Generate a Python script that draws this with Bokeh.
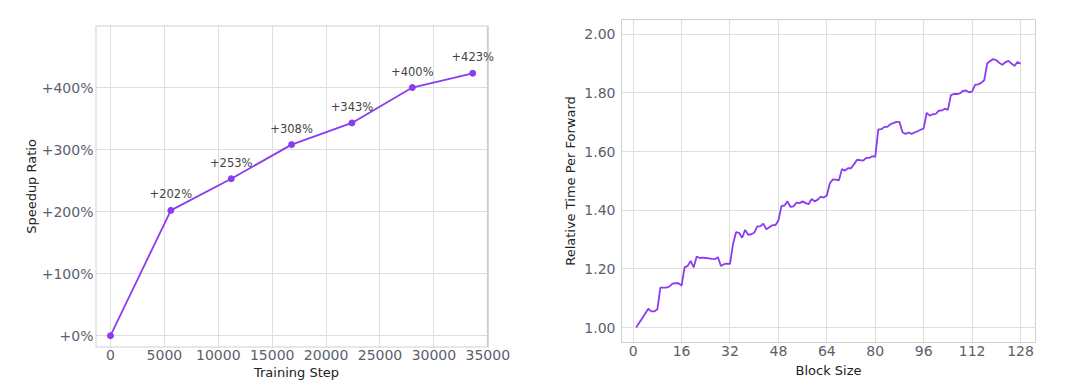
from bokeh.plotting import figure
from bokeh.layouts import row, column
from bokeh.models import (FixedTicker, NumeralTickFormatter, ColumnDataSource, Range1d,
                          LabelSet, BoxAnnotation)
from bokeh.core.properties import value
from bokeh.embed import file_html
from bokeh.resources import INLINE

# ---------------- data ----------------
training_steps = [0, 5600, 11200, 16800, 22400, 28000, 33600]
speedup_pct = [0, 202, 253, 308, 343, 400, 423]
speedup_yticks = [0, 100, 200, 300, 400]
speedup_ytick_labels = ["+0%", "+100%", "+200%", "+300%", "+400%"]
step_xticks = [0, 5000, 10000, 15000, 20000, 25000, 30000, 35000]
step_x_min, step_x_max = -1390, 35000
speedup_y_min, speedup_y_max = -19, 500

block_sizes = list(range(1, 129))
rel_time = [
    1.000, 1.016, 1.032, 1.048, 1.064, 1.055, 1.055, 1.062,
    1.136, 1.136, 1.136, 1.140, 1.150, 1.151, 1.151, 1.143,
    1.205, 1.210, 1.227, 1.205, 1.242, 1.237, 1.238, 1.237,
    1.236, 1.234, 1.233, 1.240, 1.210, 1.216, 1.218, 1.217,
    1.285, 1.325, 1.323, 1.306, 1.333, 1.316, 1.318, 1.323,
    1.345, 1.345, 1.354, 1.335, 1.342, 1.349, 1.349, 1.365,
    1.414, 1.416, 1.430, 1.411, 1.413, 1.426, 1.424, 1.430,
    1.424, 1.421, 1.438, 1.430, 1.436, 1.446, 1.443, 1.450,
    1.492, 1.505, 1.504, 1.502, 1.540, 1.535, 1.543, 1.543,
    1.557, 1.572, 1.571, 1.569, 1.578, 1.578, 1.584, 1.582,
    1.675, 1.676, 1.684, 1.684, 1.693, 1.697, 1.701, 1.701,
    1.666, 1.660, 1.665, 1.660, 1.665, 1.669, 1.674, 1.679,
    1.732, 1.722, 1.727, 1.728, 1.739, 1.740, 1.746, 1.742,
    1.792, 1.796, 1.796, 1.798, 1.807, 1.808, 1.802, 1.804,
    1.827, 1.829, 1.834, 1.843, 1.900, 1.909, 1.915, 1.911,
    1.902, 1.896, 1.904, 1.909, 1.900, 1.892, 1.905, 1.899,
]
block_xticks = [0, 16, 32, 48, 64, 80, 96, 112, 128]
time_yticks = [1.0, 1.2, 1.4, 1.6, 1.8, 2.0]

# ---------------- style ----------------
FONT = "DejaVu Sans"
LINE = "#8b3cf0"
GRID = "#dedede"
FRAME = "#cfcfcf"
TICK_COL = "#5b6070"
TITLE_COL = "#222222"


def style(p):
    p.outline_line_color = FRAME
    p.outline_line_width = 1
    p.background_fill_color = "white"
    p.border_fill_color = "white"
    for ax in (p.xaxis[0], p.yaxis[0]):
        ax.axis_line_color = None
        ax.major_tick_line_color = None
        ax.minor_tick_line_color = None
        ax.major_tick_out = 0
        ax.major_tick_in = 0
        ax.minor_tick_out = 0
        ax.minor_tick_in = 0
        ax.major_label_text_font = FONT
        ax.major_label_text_font_size = "14px"
        ax.major_label_text_color = TICK_COL
        ax.axis_label_text_font = FONT
        ax.axis_label_text_font_size = "13px"
        ax.axis_label_text_font_style = "normal"
        ax.axis_label_text_color = TITLE_COL
    p.xgrid.grid_line_color = GRID
    p.ygrid.grid_line_color = GRID
    p.xgrid.grid_line_width = 1
    p.ygrid.grid_line_width = 1


# ---------------- left chart ----------------
# the plot frame is widened a little to the right so the "+423%" label is not clipped;
# the visible box is drawn at the axis limits
p1 = figure(width=540, height=389, output_backend="svg", toolbar_location=None,
            x_range=Range1d(step_x_min, step_x_max + 900),
            y_range=Range1d(speedup_y_min, speedup_y_max),
            min_border_left=95, min_border_right=43, min_border_top=25, min_border_bottom=42)
style(p1)
p1.outline_line_color = None
p1.xaxis.major_label_standoff = 2
p1.xaxis.axis_label_standoff = 2
p1.yaxis.major_label_standoff = 2
p1.yaxis.axis_label_standoff = 0
try:
    p1.ygrid.cross_bounds = (step_x_min, step_x_max)
except Exception:
    # fallback: draw horizontal grid lines limited to the axis span
    p1.ygrid.grid_line_color = None
    p1.segment(x0=[step_x_min] * len(speedup_yticks), x1=[step_x_max] * len(speedup_yticks),
               y0=speedup_yticks, y1=speedup_yticks, line_color=GRID, line_width=1,
               level="underlay")
p1.add_layout(BoxAnnotation(left=step_x_min, right=step_x_max,
                            bottom=speedup_y_min, top=speedup_y_max,
                            fill_alpha=0.0, line_color=FRAME, line_width=2, line_alpha=1.0))
src1 = ColumnDataSource(dict(x=training_steps, y=speedup_pct))
p1.line("x", "y", source=src1, line_color=LINE, line_width=1.8)
p1.scatter("x", "y", source=src1, size=6, fill_color=LINE, line_color=LINE)
lab = ColumnDataSource(dict(x=training_steps[1:], y=speedup_pct[1:],
                            t=[f"+{v}%" for v in speedup_pct[1:]]))
labels = LabelSet(x="x", y="y", text="t", source=lab, text_align="center",
                  text_baseline="alphabetic", y_offset=12, text_font_size="11.5px",
                  text_color="#444444", text_font=value(FONT))
p1.add_layout(labels)
p1.xaxis.ticker = FixedTicker(ticks=step_xticks)
p1.yaxis.ticker = FixedTicker(ticks=speedup_yticks)
p1.yaxis.major_label_overrides = {t: l for t, l in zip(speedup_yticks, speedup_ytick_labels)}
p1.xaxis.axis_label = "Training Step"
p1.yaxis.axis_label = "Speedup Ratio"
p1.xaxis.formatter = NumeralTickFormatter(format="0")

# ---------------- right chart ----------------
p2 = figure(width=540, height=389, output_backend="svg", toolbar_location=None,
            x_range=Range1d(-3.85, 132.95), y_range=Range1d(0.949, 2.05),
            min_border_left=81, min_border_right=45, min_border_top=19, min_border_bottom=47)
style(p2)
p2.xaxis.major_label_standoff = 3
p2.xaxis.axis_label_standoff = 4
p2.yaxis.major_label_standoff = 6
p2.yaxis.axis_label_standoff = 3
p2.line(block_sizes, rel_time, line_color=LINE, line_width=1.8)
p2.xaxis.ticker = FixedTicker(ticks=block_xticks)
p2.yaxis.ticker = FixedTicker(ticks=time_yticks)
p2.yaxis.formatter = NumeralTickFormatter(format="0.00")
p2.xaxis.axis_label = "Block Size"
p2.yaxis.axis_label = "Relative Time Per Forward"

layout = row(column(p1), column(p2))
open("out.html", "w").write(file_html(layout, INLINE))
